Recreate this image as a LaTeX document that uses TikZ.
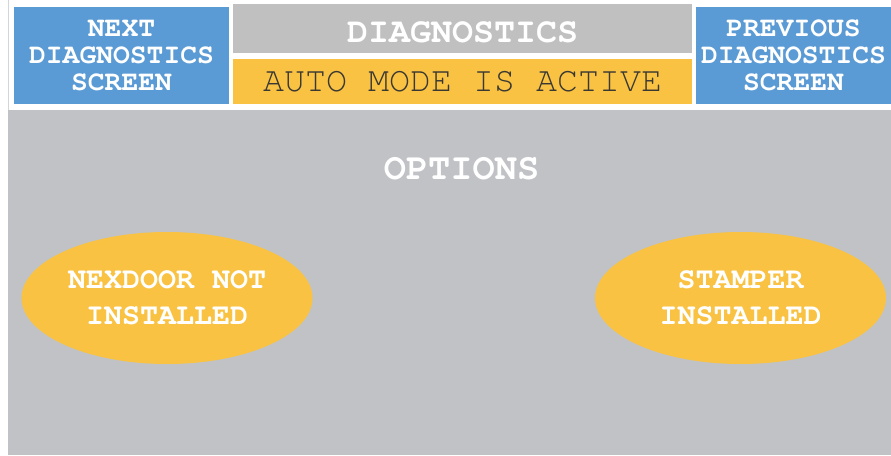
\documentclass[tikz,border=0pt]{standalone}
\usepackage[T1]{fontenc}
\usetikzlibrary{shapes.geometric}

% Courier-style slab serif typewriter face (URW Nimbus Mono)
\newcommand{\panelfont}{\fontfamily{pcr}\selectfont}

\definecolor{btnblue}{HTML}{5B9BD5}
\definecolor{statusgold}{HTML}{F9C243}
\definecolor{panelgray}{HTML}{C0C2C6}
\definecolor{titlegray}{HTML}{C0C0C1}
\definecolor{edgegray}{HTML}{D4D5D8}
\definecolor{inktext}{HTML}{3A3833}

\tikzset{
  btnbox/.style={fill=btnblue, inner sep=0pt, align=center, text=white,
    font=\panelfont\bfseries\fontsize{28}{27}\selectfont},
  barbox/.style={inner sep=0pt, minimum width=459pt},
  optoval/.style={ellipse, fill=statusgold, inner sep=0pt, align=center,
    minimum width=291pt, minimum height=132pt, text=white,
    font=\panelfont\bfseries\fontsize{30}{36}\selectfont},
  headtext/.style={inner sep=0pt, text=white,
    font=\panelfont\bfseries\fontsize{35}{35}\selectfont},
}

\begin{document}
\begin{tikzpicture}[x=1pt, y=-1pt]
  \useasboundingbox (0,0) rectangle (891,455);
  % page and lower panel
  \fill[white] (0,0) rectangle (891,455);
  \fill[panelgray] (8,110) rectangle (891,455);
  \draw[edgegray, line width=1pt] (8.5,0) -- (8.5,110);

  % navigation buttons
  \node[btnbox, minimum width=215pt, minimum height=97pt] (nextbtn)
    at (121.5,55.5) {NEXT\\DIAGNOSTICS\\SCREEN};
  \node[btnbox, minimum width=195pt, minimum height=97pt] (prevbtn)
    at (793.5,55.5) {PREVIOUS\\DIAGNOSTICS\\SCREEN};

  % title bar and mode status
  \node[barbox, fill=titlegray, minimum height=49pt] (titlebar) at (462.5,28.5) {};
  \node[headtext] (titletext) at (462.5,32) {DIAGNOSTICS};
  \node[barbox, fill=statusgold, minimum height=45pt, text=inktext,
    font=\panelfont\fontsize{35}{35}\selectfont] (modebar)
    at (462.5,81.5) {AUTO MODE IS ACTIVE};

  % options
  \node[headtext, font=\panelfont\bfseries\fontsize{37}{37}\selectfont]
    (optionstext) at (461.5,168.5) {OPTIONS};
  \node[optoval] (nexdoor) at (167,298) {NEXDOOR NOT\\INSTALLED};
  \node[optoval] (stamper) at (740.5,298) {STAMPER\\INSTALLED};
\end{tikzpicture}
\end{document}
